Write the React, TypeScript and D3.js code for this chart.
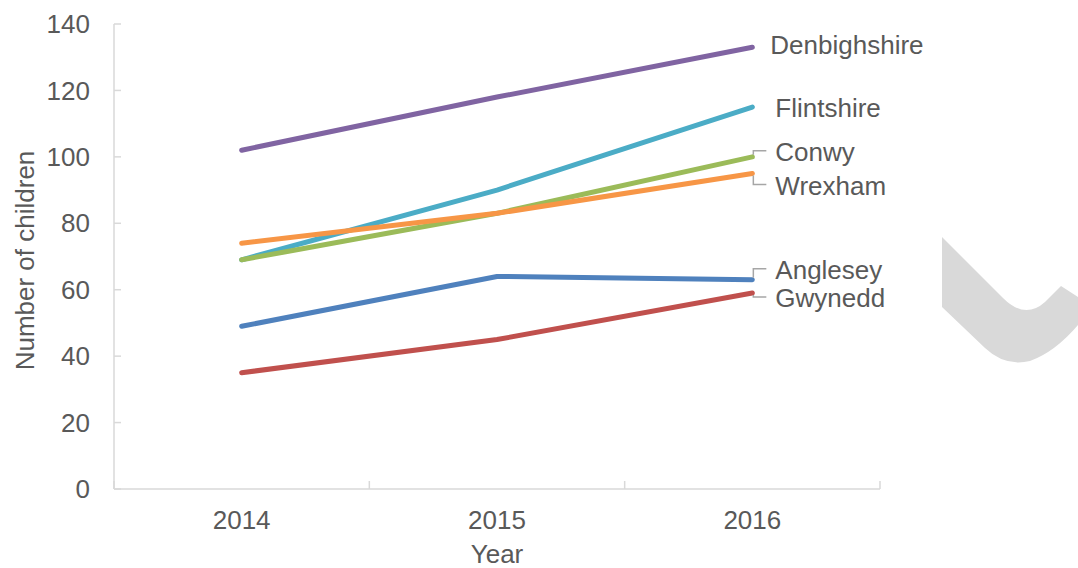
import React from "react";
import * as d3 from "d3";

// values
const years = ["2014", "2015", "2016"];
const yTicks = [0, 20, 40, 60, 80, 100, 120, 140];

const denbighshire = [102, 118, 133];
const flintshire = [69, 90, 115];
const conwy = [69, 83, 100];
const wrexham = [74, 83, 95];
const anglesey = [49, 64, 63];
const gwynedd = [35, 45, 59];

const seriesNames = ["Denbighshire", "Flintshire", "Conwy", "Wrexham", "Anglesey", "Gwynedd"];
const seriesValues = [denbighshire, flintshire, conwy, wrexham, anglesey, gwynedd];
const seriesColors = ["#8064a2", "#4bacc6", "#9bbb59", "#f79646", "#4f81bd", "#c0504d"];
// label placement relative to the line end: [dx, dy, leader?]
const labelOffsets: [number, number, boolean][] = [
  [18, -2, false],
  [23, 1, false],
  [23, -5, true],
  [23, 12, true],
  [23, -10, true],
  [23, 5, true],
];

const W = 1078, H = 568;
const left = 114, right = 880, top = 24, bottom = 489;
const font = "'Liberation Sans', Arial, sans-serif";
const fs = 26;
const textColor = "#595959";
const axisColor = "#d9d9d9";

export default function App() {
  const x = d3.scaleBand().domain(years).range([left, right]).padding(0);
  const y = d3.scaleLinear().domain([0, 140]).range([bottom, top]);
  const cx = (yr: string) => (x(yr) as number) + x.bandwidth() / 2;

  const line = d3.line<number>()
    .x((d, i) => cx(years[i]))
    .y(d => y(d));

  const bandEdges = years.map(yr => x(yr) as number).concat([right]);

  return (
    <div style={{ position: "absolute", left: 0, top: 0 }}>
      <svg width={W} height={H} style={{ display: "block", background: "#fff" }}>
        {/* decorative swoosh */}
        <path
          d="M942,237 L1003,298 Q1025,320 1045,302 L1061,286 L1078,297 L1078,325 Q1055,352 1030,361 Q1005,367 985,348 L942,307 Z"
          fill="#d9d9d9"
        />

        {/* y axis */}
        <line x1={left} x2={left} y1={top} y2={bottom} stroke={axisColor} strokeWidth={1.5} />
        {yTicks.map(t => (
          <g key={t}>
            <line x1={left} x2={left + 7} y1={y(t)} y2={y(t)} stroke={axisColor} strokeWidth={1.5} />
            <text x={90} y={y(t)} dy="0.35em" textAnchor="end" fontFamily={font} fontSize={fs} fill={textColor}>
              {t}
            </text>
          </g>
        ))}

        {/* x axis */}
        <line x1={left} x2={right} y1={bottom} y2={bottom} stroke={axisColor} strokeWidth={1.5} />
        {bandEdges.map((e, i) => (
          <line key={i} x1={e} x2={e} y1={bottom} y2={bottom - 8} stroke={axisColor} strokeWidth={1.5} />
        ))}
        {years.map(yr => (
          <text key={yr} x={cx(yr)} y={520} dy="0.35em" textAnchor="middle" fontFamily={font} fontSize={fs} fill={textColor}>
            {yr}
          </text>
        ))}

        <text x={497} y={554} dy="0.35em" textAnchor="middle" fontFamily={font} fontSize={fs} fill={textColor}>
          Year
        </text>
        <text
          transform={`translate(25, ${(top + bottom) / 2 + 4}) rotate(-90)`}
          dy="0.35em"
          textAnchor="middle"
          fontFamily={font}
          fontSize={fs}
          fill={textColor}
        >
          Number of children
        </text>

        {/* series lines */}
        {seriesValues.map((vals, i) => (
          <path
            key={seriesNames[i]}
            d={line(vals) as string}
            fill="none"
            stroke={seriesColors[i]}
            strokeWidth={5}
            strokeLinecap="round"
            strokeLinejoin="round"
          />
        ))}

        {/* end labels */}
        {seriesValues.map((vals, i) => {
          const ex = cx(years[years.length - 1]);
          const ey = y(vals[vals.length - 1]);
          const [dx, dy, leader] = labelOffsets[i];
          const ly = ey + dy;
          return (
            <g key={seriesNames[i]}>
              {leader && (
                <polyline
                  points={`${ex + 1},${ey + (dy < 0 ? -2 : 2)} ${ex + 1},${ly - 1} ${ex + 14},${ly - 1}`}
                  fill="none"
                  stroke="#a6a6a6"
                  strokeWidth={1.5}
                />
              )}
              <text x={ex + dx} y={ly} dy="0.35em" fontFamily={font} fontSize={fs} fill={textColor}>
                {seriesNames[i]}
              </text>
            </g>
          );
        })}
      </svg>
    </div>
  );
}
